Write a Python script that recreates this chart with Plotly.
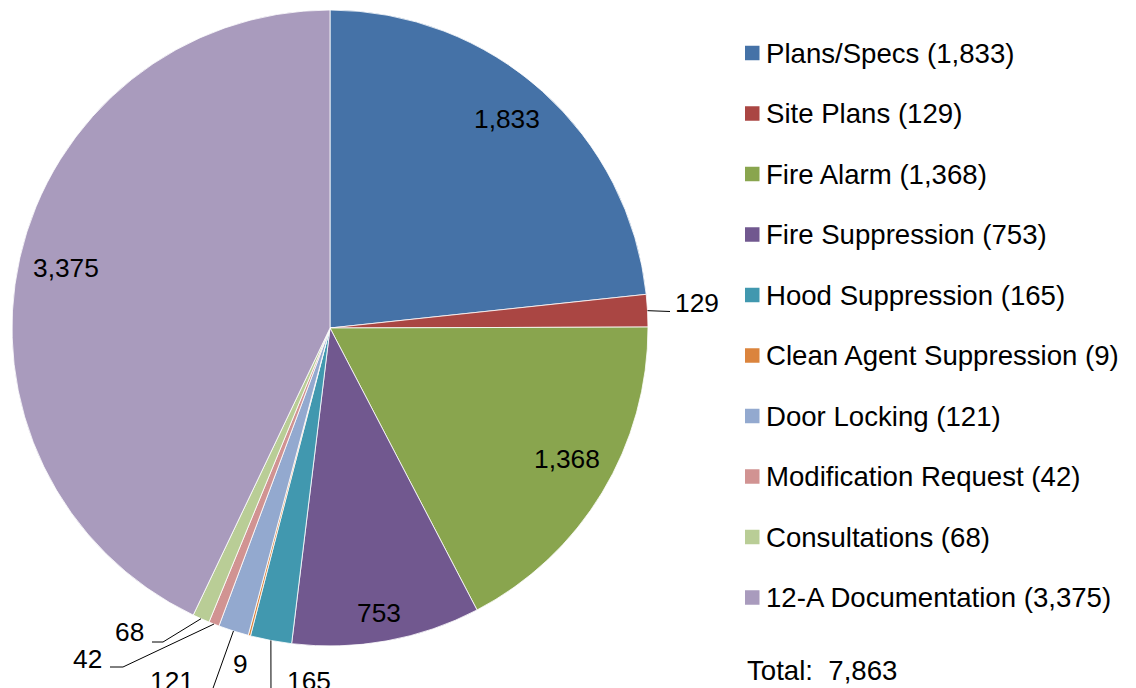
import math
import plotly.graph_objects as go

# ---- data ----
categories = ["Plans/Specs", "Site Plans", "Fire Alarm", "Fire Suppression", "Hood Suppression",
              "Clean Agent Suppression", "Door Locking", "Modification Request", "Consultations",
              "12-A Documentation"]
values = [1833, 129, 1368, 753, 165, 9, 121, 42, 68, 3375]
colors = ["#4572A7", "#AA4643", "#89A54E", "#71588F", "#4198AF",
          "#DB843D", "#93A9CF", "#D19392", "#B9CD96", "#A99BBD"]
total_label = "Total:"

W, H = 1136, 688
CX, CY, R = 330, 328, 318  # pie geometry in px
FONT = "Liberation Sans, Arial, sans-serif"
FS_LBL = 26.3
FS_LEG = 27.6

def px(x):
    return x / W

def py(y):
    return 1 - y / H

fig = go.Figure()
fig.add_trace(go.Pie(
    labels=categories, values=values, sort=False, direction="clockwise", rotation=0,
    marker=dict(colors=colors, line=dict(color="white", width=0.8)),
    textinfo="none", showlegend=False, hoverinfo="label+value",
    domain=dict(x=[px(CX - R), px(CX + R)], y=[py(CY + R), py(CY - R)]),
))

total = sum(values)
mids = []
cum = 0
for v in values:
    mids.append((cum + v / 2) / total * 360)
    cum += v

def polar(angle_deg, rf=1.0):
    a = math.radians(angle_deg)
    return CX + R * rf * math.sin(a), CY - R * rf * math.cos(a)

annotations = []
shapes = []

# inside labels: index -> (radius factor, angle tweak)
inside = {0: (0.861, -1.7), 2: (0.852, -2.2), 3: (0.909, 0.5), 9: (0.852, 0.0)}
for i, (rf, da) in inside.items():
    x, y = polar(mids[i] + da, rf)
    annotations.append(dict(x=px(x), y=py(y), xref="paper", yref="paper", text=f"{values[i]:,}",
                            xanchor="center", yanchor="middle",
                            showarrow=False, font=dict(family=FONT, size=FS_LBL, color="black")))

# outside labels with leader lines
outside = {
    1: dict(path=[(670, 311.5)], text=(673, 303), anchor="left"),
    8: dict(path=[(163, 642), (152, 642)], text=(146, 632), anchor="right"),
    7: dict(path=[(123, 667), (110, 667)], text=(104, 659), anchor="right"),
    6: dict(path=[(207, 705)], text=(196, 681), anchor="right"),
    5: dict(path=None, text=(231, 663.5), anchor="left"),
    4: dict(path=[(271, 705)], text=(285, 681), anchor="left"),
}
for i, spec in outside.items():
    ex, ey = polar(mids[i])
    if spec["path"]:
        pts = [(ex, ey)] + list(spec["path"])
        d = "M " + " L ".join(f"{px(a):.5f},{py(b):.5f}" for a, b in pts)
        shapes.append(dict(type="path", xref="paper", yref="paper", path=d,
                           line=dict(color="black", width=1)))
    tx, ty = spec["text"]
    annotations.append(dict(x=px(tx), y=py(ty), xref="paper", yref="paper", text=f"{values[i]:,}",
                            showarrow=False, xanchor=spec["anchor"], yanchor="middle",
                            font=dict(family=FONT, size=FS_LBL, color="black")))

# manual legend
LEG_X, LEG_Y0, LEG_DY, SQ = 745, 53, 60.5, 14.5
for i, (c, v) in enumerate(zip(categories, values)):
    yc = LEG_Y0 + i * LEG_DY
    shapes.append(dict(type="rect", xref="paper", yref="paper",
                       x0=px(LEG_X), x1=px(LEG_X + SQ), y0=py(yc + SQ / 2), y1=py(yc - SQ / 2),
                       fillcolor=colors[i], line=dict(width=0)))
    annotations.append(dict(x=px(LEG_X + 19), y=py(yc), xref="paper", yref="paper",
                            text=f"{c} ({v:,})", showarrow=False, xanchor="left", yanchor="middle",
                            font=dict(family=FONT, size=FS_LEG, color="black")))

annotations.append(dict(x=px(745), y=py(670), xref="paper", yref="paper",
                        text=f"{total_label}&nbsp; {total:,}", showarrow=False, xanchor="left",
                        yanchor="middle", font=dict(family=FONT, size=FS_LEG, color="black")))

fig.update_layout(width=W, height=H, margin=dict(l=0, r=0, t=0, b=0),
                  paper_bgcolor="white", plot_bgcolor="white",
                  annotations=annotations, shapes=shapes)
fig.write_html("out.html", config={"displayModeBar": False},
               post_script="document.body.style.margin='0px';")
